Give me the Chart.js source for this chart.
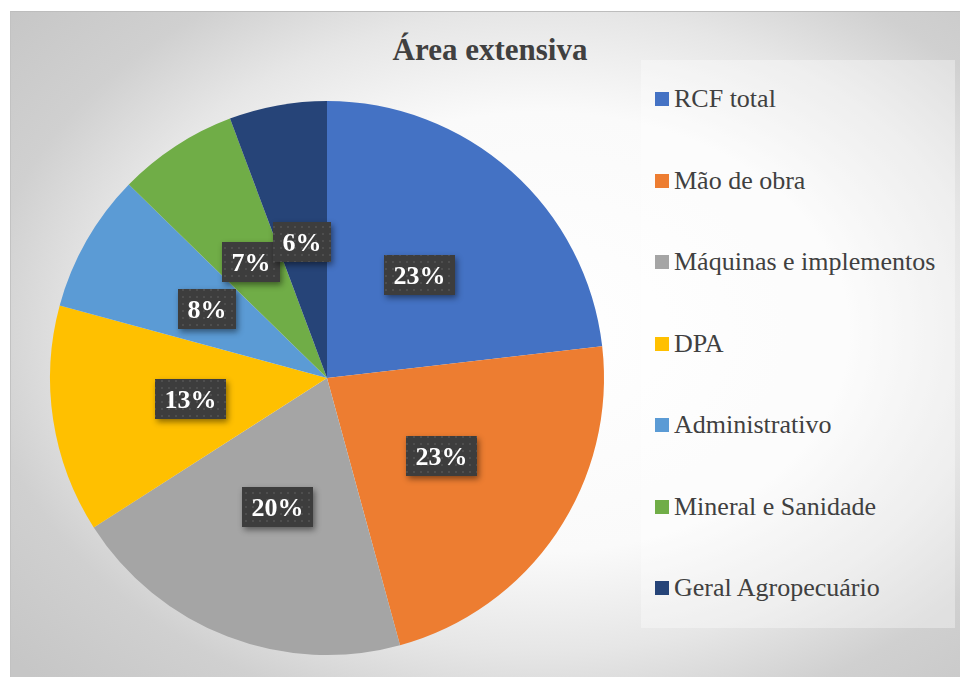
<!DOCTYPE html>
<html>
<head>
<meta charset="utf-8">
<script src="https://cdn.jsdelivr.net/npm/chart.js@4.4.1/dist/chart.umd.min.js"></script>
<style>
  body { margin: 0; background: #fff; width: 960px; height: 677px; overflow: hidden; position: relative; font-family: "Liberation Serif", "Times New Roman", serif; }
  #frame {
    position: absolute; left: 10px; top: 11px; width: 950px; height: 666px;
    border-top: 1px solid #bdbdbd; border-left: 1px solid #c2c2c2;
    background: radial-gradient(ellipse 560px 400px at 530px 320px, #ffffff 0%, #fafafa 55%, #e6e6e6 80%, #d0d0d0 100%, #c6c6c6 125%);
  }
  #title {
    position: absolute; left: 0; top: 34px; width: 980px; text-align: center;
    font-size: 31px; line-height: 31px; font-weight: bold; color: #404040;
  }
  #pie { position: absolute; left: 40px; top: 91px; }
  #legend {
    position: absolute; left: 641px; top: 60px; width: 314px; height: 568px;
    background: rgba(255,255,255,0.35);
  }
  .item { position: absolute; left: 14px; height: 26px; line-height: 26px; font-size: 26px; color: #404040; white-space: nowrap; }
  .item i { position: absolute; left: 0; top: 6px; width: 14px; height: 14px; }
  .item span { position: absolute; left: 19px; top: 0; }
</style>
</head>
<body>
<div id="frame"></div>
<div id="title">Área extensiva</div>
<canvas id="pie" width="574" height="574"></canvas>
<div id="legend"></div>
<script>
const categories = ['RCF total', 'Mão de obra', 'Máquinas e implementos', 'DPA', 'Administrativo', 'Mineral e Sanidade', 'Geral Agropecuário'];
const shares = [23.2, 22.6, 20.2, 13.3, 8.1, 7.0, 5.7];
const sliceColors = ['#4472C4', '#ED7D31', '#A5A5A5', '#FFC000', '#5B9BD5', '#70AD47', '#264478'];

// legend built from the same arrays
let legend = document.getElementById('legend');
categories.forEach((name, i) => {
    let item = document.createElement('div');
    item.className = 'item';
    item.style.top = (26 + i * 81.5) + 'px';
    item.innerHTML = '<i style="background:' + sliceColors[i] + '"></i><span></span>';
    item.querySelector('span').textContent = name;
    legend.appendChild(item);
});

// dotted dark texture for the percentage boxes
let tile = document.createElement('canvas');
tile.width = 7; tile.height = 7;
let tctx = tile.getContext('2d');
tctx.fillStyle = '#3d3d3d';
tctx.fillRect(0, 0, 7, 7);
tctx.fillStyle = '#4e4e4e';
tctx.fillRect(2, 2, 2, 2);

const percentLabels = {
    id: 'percentLabels',
    afterDatasetsDraw(chart) {
        let ctx = chart.ctx;
        let meta = chart.getDatasetMeta(0);
        let data = chart.data.datasets[0].data;
        let total = data.reduce((a, b) => a + b, 0);
        let pattern = ctx.createPattern(tile, 'repeat');
        ctx.save();
        ctx.font = 'bold 26px "Liberation Serif", "Times New Roman", serif';
        meta.data.forEach((arc, i) => {
            let p = arc.tooltipPosition();
            let text = Math.round(data[i] / total * 100) + '%';
            let w = ctx.measureText(text).width + 19;
            let h = 40;
            let x = Math.round(p.x - w / 2), y = Math.round(p.y - h / 2);
            ctx.save();
            ctx.shadowColor = 'rgba(0,0,0,0.45)';
            ctx.shadowBlur = 6;
            ctx.shadowOffsetX = 2;
            ctx.shadowOffsetY = 3;
            ctx.fillStyle = '#3d3d3d';
            ctx.fillRect(x, y, w, h);
            ctx.restore();
            ctx.fillStyle = pattern;
            ctx.fillRect(x, y, w, h);
            ctx.fillStyle = '#ffffff';
            ctx.textAlign = 'center';
            ctx.textBaseline = 'alphabetic';
            ctx.fillText(text, x + w / 2, y + h / 2 + 9);
        });
        ctx.restore();
    }
};

new Chart(document.getElementById('pie'), {
    type: 'pie',
    data: {
        labels: categories,
        datasets: [{
            data: shares,
            backgroundColor: sliceColors,
            borderWidth: 0,
            hoverOffset: 0
        }]
    },
    options: {
        responsive: false,
        animation: false,
        layout: { padding: 10 },
        plugins: {
            legend: { display: false },
            title: { display: false },
            tooltip: { enabled: false }
        }
    },
    plugins: [percentLabels]
});
</script>
</body>
</html>
